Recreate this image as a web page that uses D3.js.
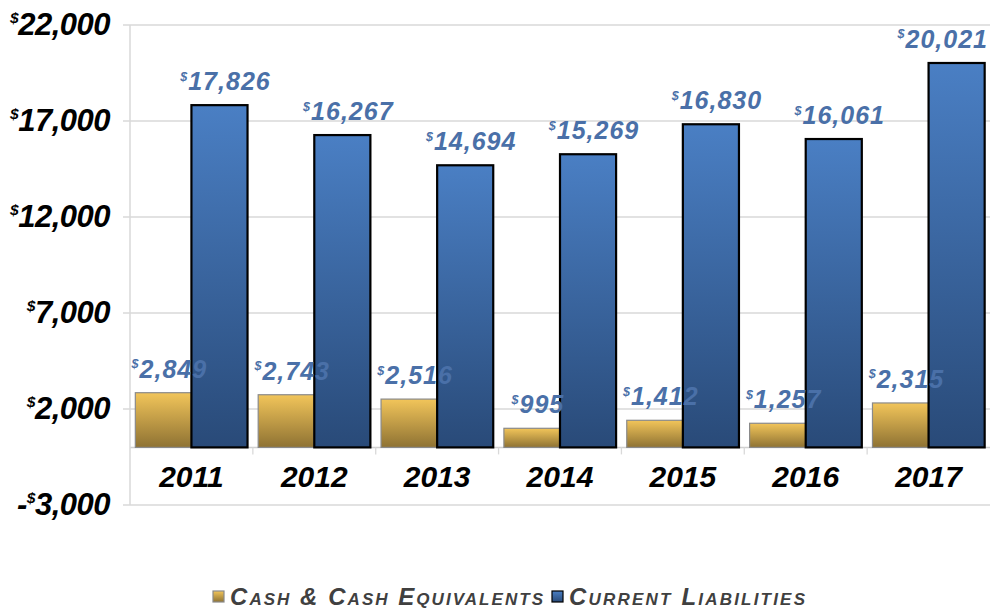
<!DOCTYPE html>
<html><head><meta charset="utf-8">
<script src="https://cdn.jsdelivr.net/npm/d3@7"></script>
<style>
body{margin:0;background:#fff;}
svg{display:block;}
</style></head>
<body>
<svg id="c" width="990" height="609"></svg>
<script>
const years = ["2011","2012","2013","2014","2015","2016","2017"];
const cash = [2849, 2743, 2516, 995, 1412, 1257, 2315];
const liabilities = [17826, 16267, 14694, 15269, 16830, 16061, 20021];
const seriesNames = ["Cash & Cash Equivalents", "Current Liabilities"];
const yTicks = [-3000, 2000, 7000, 12000, 17000, 22000];

(function(){
const svg = d3.select("#c");
const mLeft = 130, mRight = 990, mTop = 25, mBottom = 505;
const font = "'Liberation Sans','DejaVu Sans',sans-serif";

const defs = svg.append("defs");
const g1 = defs.append("linearGradient").attr("id","gCash").attr("x1",0).attr("y1",0).attr("x2",0).attr("y2",1);
g1.append("stop").attr("offset","0%").attr("stop-color","#f2c55a");
g1.append("stop").attr("offset","100%").attr("stop-color","#8e7233");
const g2 = defs.append("linearGradient").attr("id","gLia").attr("x1",0).attr("y1",0).attr("x2",0).attr("y2",1);
g2.append("stop").attr("offset","0%").attr("stop-color","#4a7fc4");
g2.append("stop").attr("offset","100%").attr("stop-color","#294a78");

const y = d3.scaleLinear().domain([-3000, 22000]).range([mBottom, mTop]);
const x = d3.scaleBand().domain(years).range([mLeft, mRight]).paddingInner(0).paddingOuter(0);
const xs = d3.scaleBand().domain([0,1]).range([0, x.bandwidth()]).paddingInner(0).paddingOuter(0.095);

svg.append("g").selectAll("line").data(yTicks).join("line")
  .attr("x1", mLeft-7).attr("x2", mRight)
  .attr("y1", d=>y(d)).attr("y2", d=>y(d))
  .attr("stroke", "#d9d9d9").attr("stroke-width", 1.3);
svg.append("line").attr("x1", mLeft).attr("x2", mRight).attr("y1", y(0)).attr("y2", y(0))
  .attr("stroke","#d0d0d0").attr("stroke-width",1.5);
svg.append("line").attr("x1", mLeft).attr("x2", mLeft).attr("y1", mTop).attr("y2", mBottom)
  .attr("stroke","#d9d9d9").attr("stroke-width",1.5);
svg.append("g").selectAll("line").data(years.slice(1)).join("line")
  .attr("x1", d=>x(d)).attr("x2", d=>x(d)).attr("y1", y(0)).attr("y2", y(0)+7)
  .attr("stroke","#d9d9d9").attr("stroke-width",1.3);

function money(sel, v, fs){
  const neg = v < 0;
  const s = d3.format(",")(Math.abs(v));
  if (neg) sel.append("tspan").text("-");
  sel.append("tspan").attr("font-size", fs*0.5).attr("dy", -fs*0.38).text("$");
  sel.append("tspan").attr("dy", fs*0.38).text(s);
}
svg.append("g").selectAll("text").data(yTicks).join("text")
  .attr("x", 110).attr("y", d=>y(d)+10)
  .attr("text-anchor","end")
  .attr("font-family", font).attr("font-weight","bold").attr("font-style","italic")
  .attr("font-size", 31).attr("fill","#000").attr("letter-spacing",-0.5)
  .each(function(d){ money(d3.select(this), d, 31); });

const groups = svg.append("g").selectAll("g").data(years).join("g")
  .attr("transform", d=>`translate(${x(d)},0)`);
groups.append("rect")
  .attr("x", xs(0)).attr("width", xs.bandwidth())
  .attr("y", (d,i)=>y(cash[i])).attr("height",(d,i)=>y(0)-y(cash[i]))
  .attr("fill","url(#gCash)").attr("stroke","#8a8a8a").attr("stroke-width",1.2);
groups.append("rect")
  .attr("x", xs(1)).attr("width", xs.bandwidth())
  .attr("y", (d,i)=>y(liabilities[i])).attr("height",(d,i)=>y(0)-y(liabilities[i]))
  .attr("fill","url(#gLia)").attr("stroke","#000").attr("stroke-width",2.2);

const lblFs = 25;
function dataLabel(values, k){
  groups.append("text")
    .attr("x", xs(k)+xs.bandwidth()/2+6).attr("y",(d,i)=>y(values[i])-15)
    .attr("text-anchor","middle").attr("font-family",font).attr("font-weight","bold").attr("font-style","italic")
    .attr("font-size", lblFs).attr("fill","#4a70a8").attr("letter-spacing",1)
    .each(function(d,i){ money(d3.select(this), values[i], lblFs); })
    .each(function(d){
      // keep label inside the picture
      const bb = this.getBBox();
      const gx = x(d);
      const over = gx + bb.x + bb.width - 988;
      if (over > 0) d3.select(this).attr("x", +d3.select(this).attr("x") - over);
    });
}
dataLabel(cash, 0);
dataLabel(liabilities, 1);

groups.append("text")
  .attr("x", x.bandwidth()/2).attr("y", 487)
  .attr("text-anchor","middle").attr("font-family",font).attr("font-weight","bold").attr("font-style","italic")
  .attr("font-size", 30).attr("fill","#000")
  .text(d=>d);

const leg = svg.append("g");
const legItems = [{name:seriesNames[0], fill:"url(#gCash)", stroke:"#8a8a8a", x:213, w:313},
                  {name:seriesNames[1], fill:"url(#gLia)", stroke:"#000", x:552, w:236}];
legItems.forEach(it=>{
  leg.append("rect").attr("x", it.x).attr("y", 591).attr("width", 11).attr("height", 11)
    .attr("fill", it.fill).attr("stroke", it.stroke).attr("stroke-width", 1.2);
  leg.append("text").attr("x", it.x+17).attr("y", 605)
    .attr("font-family",font).attr("font-weight","bold").attr("font-style","italic")
    .attr("font-size", 24).attr("fill","#404040").attr("font-variant","small-caps")
    .attr("textLength", it.w).attr("lengthAdjust","spacing")
    .text(it.name);
});
})();
</script>
</body></html>
